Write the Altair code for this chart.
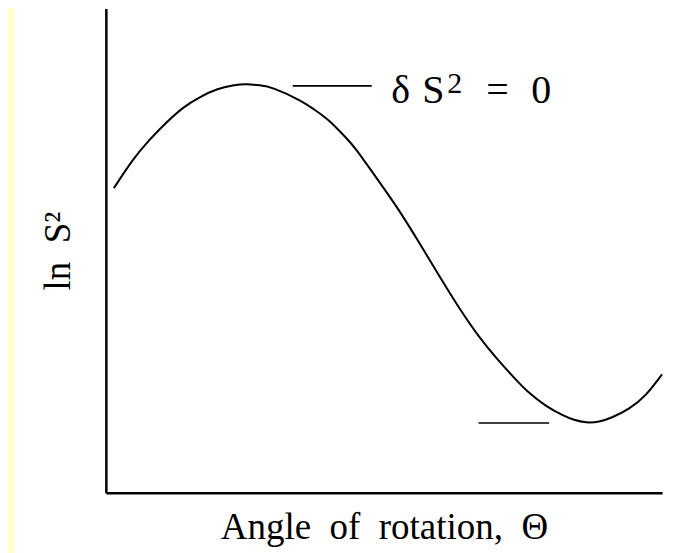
import altair as alt
import pandas as pd

# Curve (angle units 0-100, ln S^2 units 0-100)
curve_x = [1.44, 4.85, 7.90, 10.95, 13.96, 16.88, 19.93, 22.80, 25.31, 27.65, 30.34,
           34.83, 37.52, 40.22, 42.91, 45.06, 49.19, 52.78, 56.37, 59.96, 63.55,
           67.15, 70.20, 73.43, 76.12, 79.17, 82.05, 84.20, 86.36, 88.69, 91.02,
           94.08, 97.13, 100.0]
curve_y = [62.89, 68.66, 72.89, 76.49, 79.52, 81.65, 83.24, 84.08, 84.33, 84.12, 83.38,
           81.03, 79.07, 76.70, 73.61, 70.72, 64.12, 58.14, 51.55, 44.74, 38.14,
           32.16, 27.84, 23.71, 20.62, 17.94, 16.08, 15.05, 14.54, 14.70, 15.57,
           17.42, 20.31, 24.43]

# Horizontal marker lines (at the maximum and the minimum)
seg_x1 = [33.6, 67.0]
seg_x2 = [47.8, 79.7]
seg_y = [84.0, 14.4]

# Annotation "δ S² = 0" split into pieces
ann_text = ["δ", "S", "2", "=", "0"]
ann_x = [51.3, 56.9, 61.4, 68.4, 76.5]
ann_y = [80.4, 80.4, 82.6, 80.4, 80.4]
ann_size = [40, 40, 30, 40, 40]

curve_df = pd.DataFrame({"theta": curve_x, "lns2": curve_y})
seg_df = pd.DataFrame({"x1": seg_x1, "x2": seg_x2, "y": seg_y})
ann_df = pd.DataFrame({"t": ann_text, "x": ann_x, "y": ann_y, "s": ann_size})

FONT = "Times New Roman, Liberation Serif, serif"
xs = alt.Scale(domain=[0, 100], nice=False, zero=False)
ys = alt.Scale(domain=[0, 100], nice=False, zero=False)
x_axis = alt.Axis(title="Angle\u2002of\u2002rotation,\u2002Θ", domain=True, ticks=False,
                  labels=False, grid=False, titlePadding=17)
y_axis = alt.Axis(title="ln\u2002S²", domain=True, ticks=False, labels=False,
                  grid=False, titlePadding=28)

strip = alt.Chart(curve_df).mark_rect(color="#FFFFCC").encode(
    x=alt.value(-98), x2=alt.value(-92), y=alt.value(-10), y2=alt.value(600)
)

curve = alt.Chart(curve_df).mark_line(
    color="black", strokeWidth=2, interpolate="natural"
).encode(
    x=alt.X("theta:Q", scale=xs, axis=x_axis),
    y=alt.Y("lns2:Q", scale=ys, axis=y_axis),
)

segs = alt.Chart(seg_df).mark_rule(color="black", strokeWidth=1.6).encode(
    x=alt.X("x1:Q", scale=xs, axis=x_axis),
    x2="x2:Q",
    y=alt.Y("y:Q", scale=ys, axis=y_axis),
)

ann = alt.Chart(ann_df).mark_text(
    font=FONT, align="left", baseline="alphabetic", color="black"
).encode(
    x=alt.X("x:Q", scale=xs, axis=x_axis),
    y=alt.Y("y:Q", scale=ys, axis=y_axis),
    text="t:N",
    size=alt.Size("s:Q", scale=None, legend=None),
)

chart = alt.layer(curve, segs, ann, strip).properties(
    width=557,
    height=485,
    autosize=alt.AutoSizeParams(type="none"),
    padding={"left": 98, "top": 0, "right": 30, "bottom": 60},
    background="white",
).configure_view(stroke=None).configure_axis(
    domainColor="black", domainWidth=2.5, titleFont=FONT, titleFontSize=37,
    titleFontWeight="normal", titleColor="black",
)

chart.save("out.html", embed_options={"renderer": "svg", "actions": False})
